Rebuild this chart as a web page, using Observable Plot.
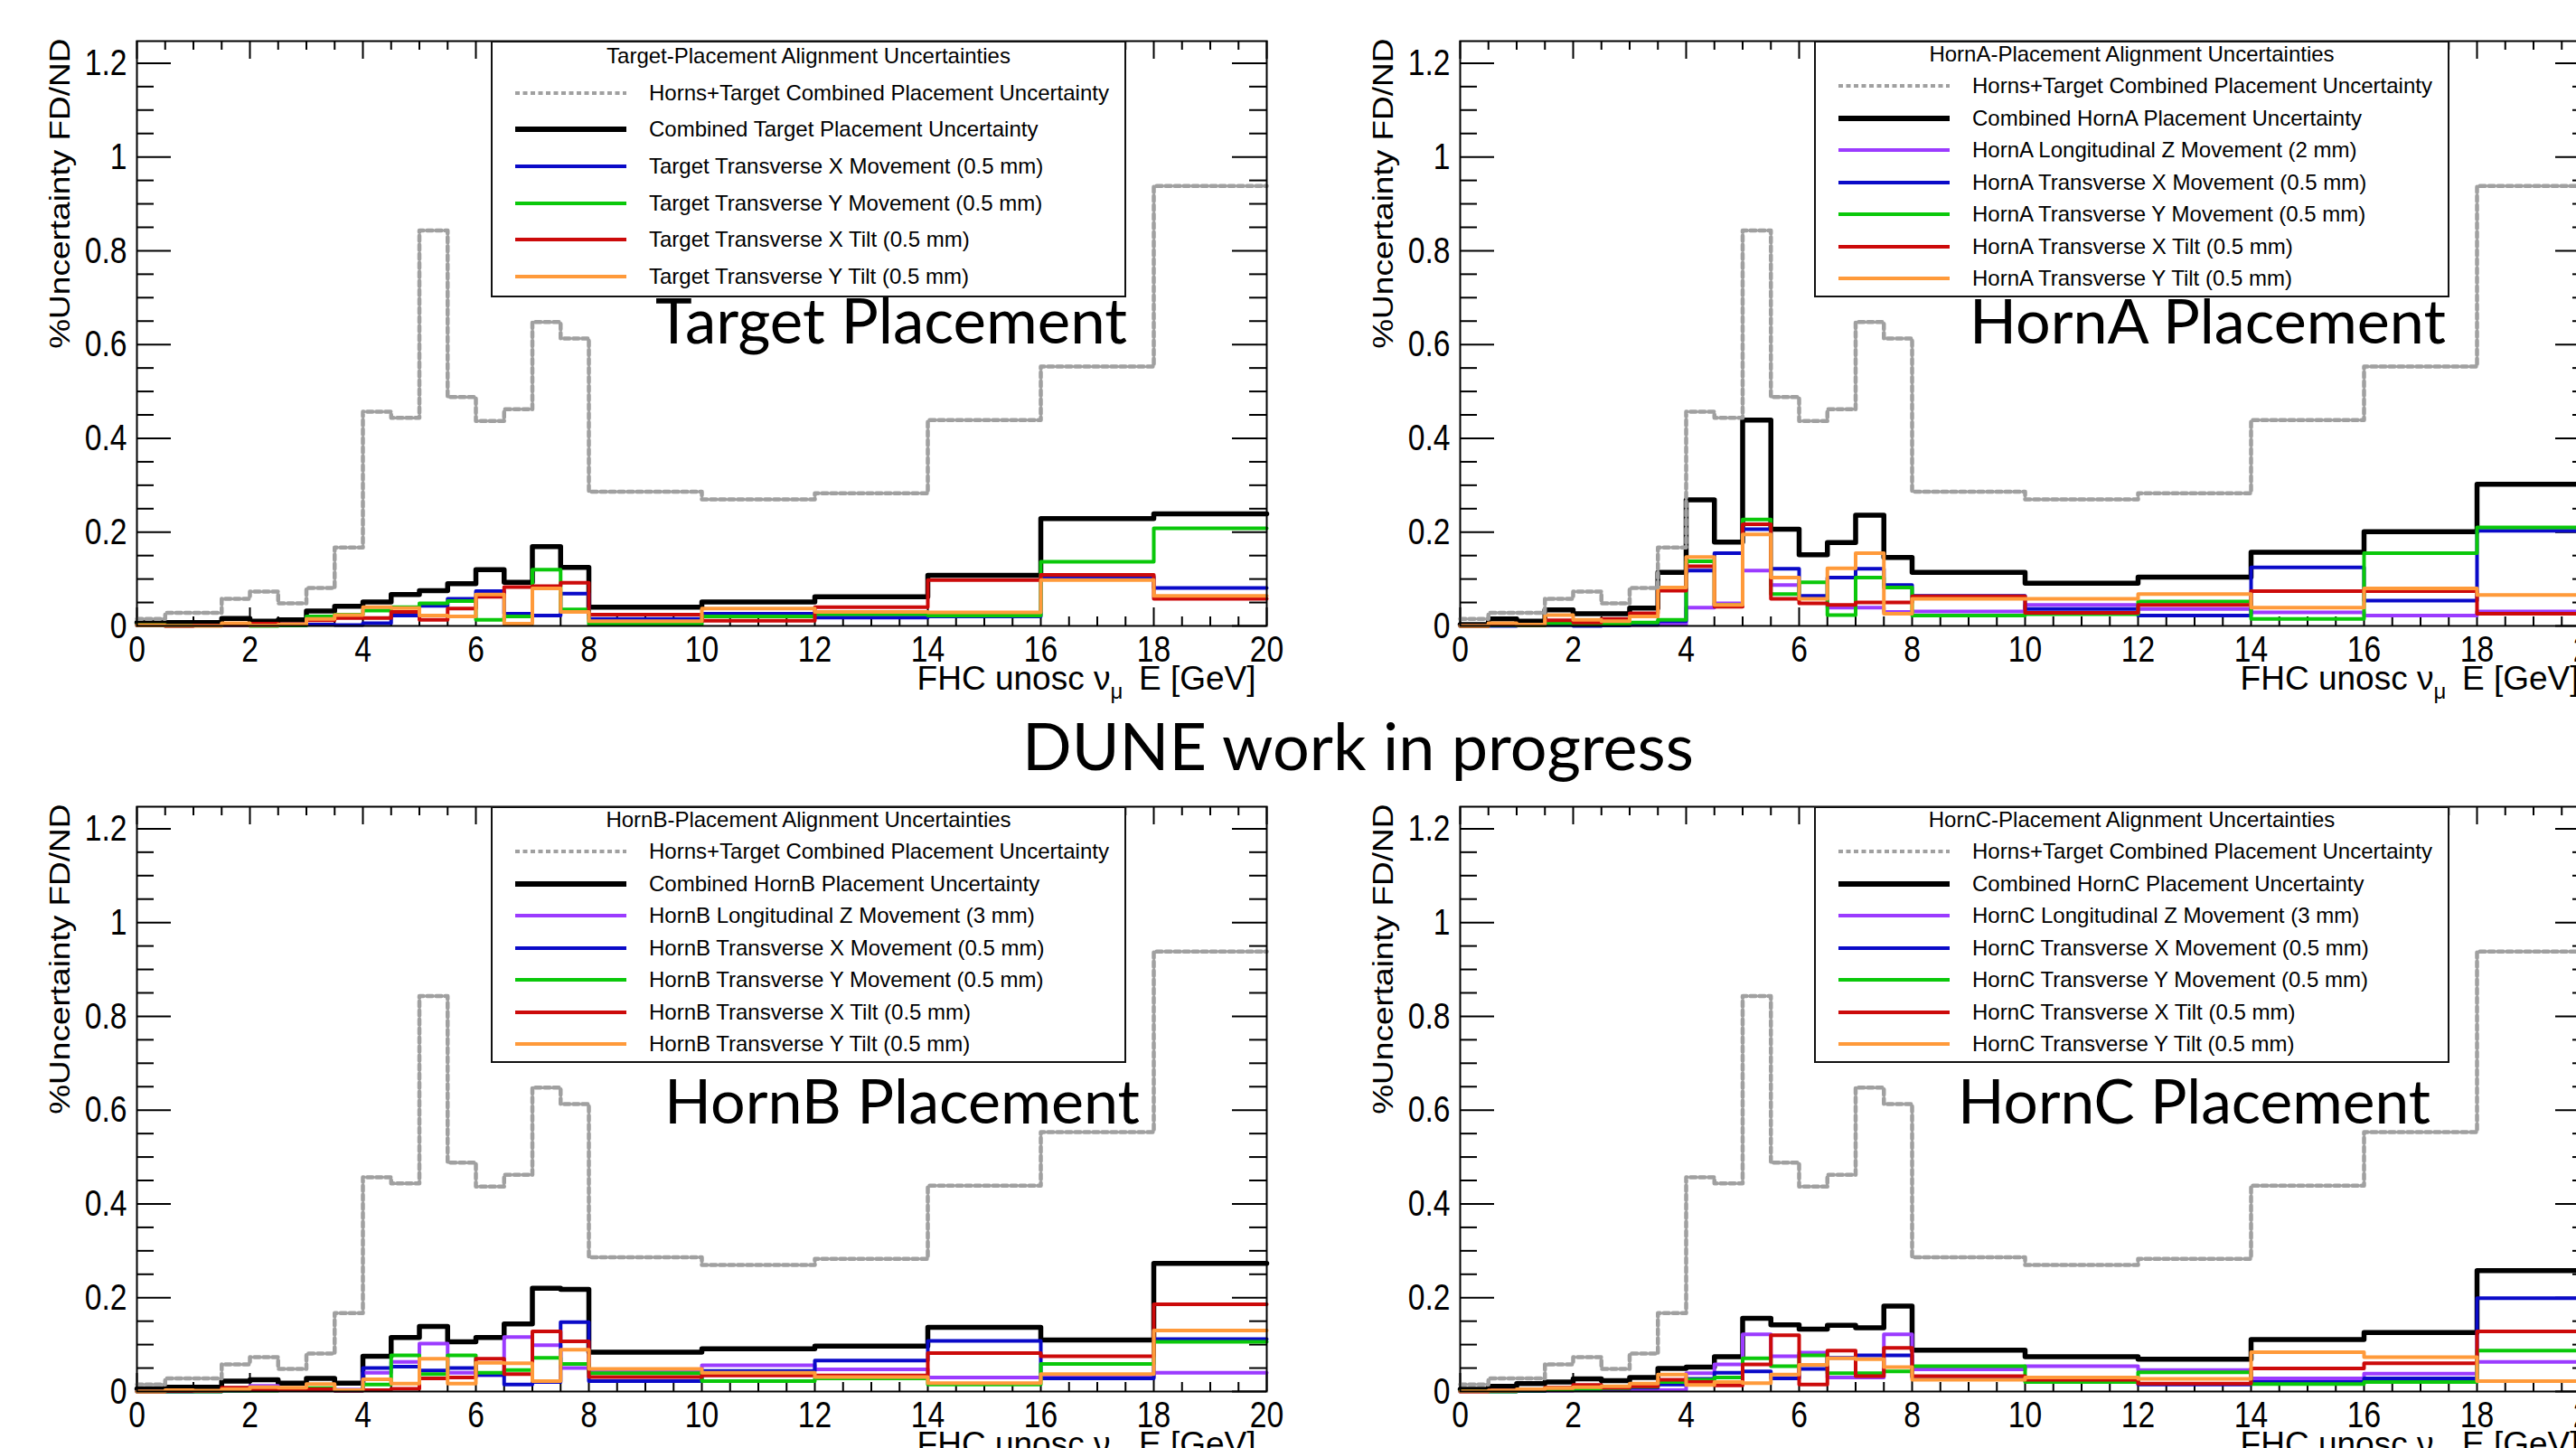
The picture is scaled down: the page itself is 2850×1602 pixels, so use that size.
<!DOCTYPE html>
<html>
<head>
<meta charset="utf-8">
<script src="https://cdn.jsdelivr.net/npm/d3@7"></script>
<script src="https://cdn.jsdelivr.net/npm/@observablehq/plot@0.6"></script>
<style>
html, body { margin: 0; padding: 0; background: #fff; }
body { width: 2850px; height: 1602px; overflow: hidden; position: relative; }
.panel { position: absolute; width: 1420px; height: 800px; }
.legend { position: absolute; background: #fff; border: 2px solid #111; box-sizing: border-box;
  font-family: "Liberation Sans", Arial, sans-serif; font-size: 24px; color: #000; }
.legend .row { position: absolute; left: 0; width: 100%; height: 24px; line-height: 24px; white-space: nowrap; }
.legend .row svg { position: absolute; left: 25px; top: 0; }
.legend .row span { position: absolute; left: 173px; top: 0; }
.legend .ttl { position: absolute; left: 0; width: 100%; text-align: center; height: 24px; line-height: 24px; white-space: nowrap; }
#overlay { position: absolute; left: 0; top: 0; pointer-events: none; }
</style>
</head>
<body>
<script>
// ---------------- data ----------------
const binEdges = [0,0.5,1,1.5,2,2.5,3,3.5,4,4.5,5,5.5,6,6.5,7,7.5,8,10,12,14,16,18,20];
const xTickLabels = [0,2,4,6,8,10,12,14,16,18,20];
const yTickLabels = [0,0.2,0.4,0.6,0.8,1,1.2];

// Horns+Target combined (same in all panels)
const combinedAll = [0.015,0.028,0.028,0.058,0.073,0.048,0.081,0.167,0.457,0.444,0.843,0.488,0.437,0.462,0.648,0.613,0.286,0.27,0.283,0.439,0.553,0.938];

// Target
const targetCombined = [0.007,0.007,0.007,0.016,0.01,0.013,0.032,0.042,0.051,0.067,0.075,0.09,0.12,0.093,0.169,0.125,0.04,0.051,0.062,0.108,0.229,0.239];
const targetXMove = [0.001,0,0.001,0.002,0.001,0.002,0.003,0.002,0.006,0.022,0.043,0.058,0.074,0.026,0.022,0.069,0.015,0.026,0.018,0.02,0.105,0.081];
const targetYMove = [0.003,0.001,0.001,0.004,0,0.001,0.02,0.024,0.033,0.04,0.048,0.053,0.013,0.02,0.12,0.035,0.003,0.02,0.025,0.022,0.137,0.208];
const targetXTilt = [0.002,0,0.001,0.002,0.005,0.004,0.012,0.017,0.017,0.03,0.013,0.037,0.062,0.083,0.085,0.092,0.024,0.011,0.04,0.098,0.109,0.058];
const targetYTilt = [0.001,0,0,0.006,0.001,0.003,0.015,0.023,0.04,0.038,0.022,0.02,0.067,0.005,0.08,0.03,0.01,0.037,0.03,0.029,0.098,0.064];

// HornA
const hornACombined = [0.003,0.015,0.01,0.034,0.026,0.026,0.038,0.114,0.269,0.179,0.439,0.206,0.152,0.178,0.236,0.146,0.114,0.091,0.104,0.157,0.201,0.302];
const hornAZMove = [0,0.003,0.001,0.004,0.001,0.001,0.002,0.003,0.039,0.048,0.118,0.087,0.062,0.039,0.039,0.03,0.031,0.045,0.036,0.029,0.022,0.031];
const hornAXMove = [0,0,0.001,0.002,0,0.001,0.003,0.01,0.118,0.155,0.206,0.122,0.064,0.103,0.122,0.087,0.064,0.036,0.022,0.125,0.054,0.203];
const hornAYMove = [0,0.002,0.001,0.006,0.003,0.004,0.007,0.013,0.138,0.045,0.227,0.068,0.093,0.023,0.103,0.082,0.022,0.025,0.052,0.015,0.155,0.21];
const hornAXTilt = [0,0.004,0.002,0.012,0.007,0.015,0.027,0.075,0.127,0.041,0.217,0.058,0.048,0.045,0.05,0.05,0.063,0.028,0.045,0.074,0.074,0.026];
const hornAYTilt = [0,0.006,0.003,0.023,0.013,0.01,0.02,0.082,0.147,0.045,0.195,0.103,0.058,0.123,0.155,0.026,0.058,0.058,0.068,0.039,0.08,0.066];

// HornB
const hornBCombined = [0.006,0.009,0.009,0.022,0.025,0.018,0.028,0.018,0.075,0.115,0.139,0.106,0.115,0.144,0.22,0.218,0.084,0.091,0.097,0.137,0.11,0.273];
const hornBZMove = [0,0,0.001,0.003,0.012,0.004,0.003,0.004,0.04,0.063,0.102,0.04,0.035,0.116,0.099,0.05,0.043,0.056,0.047,0.03,0.03,0.04];
const hornBXMove = [0,0,0,0.002,0.006,0.003,0.004,0.002,0.05,0.053,0.045,0.05,0.035,0.015,0.02,0.148,0.022,0.044,0.066,0.108,0.028,0.112];
const hornBYMove = [0,0,0,0.002,0.002,0.003,0.007,0.003,0.015,0.077,0.037,0.077,0.04,0.046,0.072,0.059,0.039,0.022,0.028,0.015,0.059,0.106];
const hornBXTilt = [0,0.001,0.001,0.008,0.004,0.004,0.005,0.002,0.003,0.006,0.028,0.03,0.07,0.037,0.128,0.107,0.031,0.034,0.034,0.082,0.075,0.186];
const hornBYTilt = [0,0.003,0.002,0.005,0.009,0.008,0.016,0.003,0.026,0.017,0.07,0.017,0.061,0.06,0.022,0.089,0.048,0.04,0.031,0.018,0.037,0.13];

// HornC
const hornCCombined = [0.005,0.011,0.017,0.02,0.027,0.023,0.03,0.049,0.052,0.074,0.156,0.142,0.133,0.141,0.136,0.182,0.088,0.074,0.069,0.111,0.126,0.258];
const hornCZMove = [0,0.001,0.001,0.002,0.003,0.003,0.004,0.003,0.039,0.058,0.122,0.075,0.083,0.03,0.03,0.122,0.047,0.054,0.046,0.028,0.038,0.063];
const hornCXMove = [0,0,0.001,0.003,0.005,0.006,0.008,0.015,0.027,0.04,0.043,0.028,0.048,0.072,0.077,0.077,0.03,0.022,0.015,0.02,0.028,0.199];
const hornCYMove = [0.001,0,0.002,0.004,0.006,0.007,0.01,0.02,0.025,0.03,0.071,0.054,0.077,0.039,0.039,0.043,0.054,0.02,0.041,0.016,0.02,0.087];
const hornCXTilt = [0,0.002,0.004,0.008,0.014,0.008,0.011,0.025,0.02,0.013,0.058,0.12,0.015,0.087,0.033,0.093,0.033,0.025,0.017,0.049,0.06,0.128];
const hornCYTilt = [0,0.002,0.005,0.007,0.009,0.011,0.017,0.036,0.014,0.02,0.018,0.036,0.057,0.071,0.069,0.052,0.025,0.03,0.027,0.084,0.073,0.022];

const combinedAllLabel = "Horns+Target Combined Placement Uncertainty";
const pageTitle = "DUNE work in progress";
const yTitle = "%Uncertainty FD/ND";
const xTitle = "FHC unosc \u03BD_\u03BC E [GeV]";

const COL = { grey: "#a0a0a0", black: "#000000", purple: "#9b3bff", blue: "#0a0ac8", green: "#0ac80a", red: "#cc0a0a", orange: "#ff9a3a" };

const panels = [
  { name: "Target", left: 0, top: 0, label: "Target Placement",
    title: "Target-Placement Alignment Uncertainties",
    combined: targetCombined, combinedLabel: "Combined Target Placement Uncertainty",
    parts: [
      { vals: targetXMove, color: COL.blue, label: "Target Transverse X Movement (0.5 mm)" },
      { vals: targetYMove, color: COL.green, label: "Target Transverse Y Movement (0.5 mm)" },
      { vals: targetXTilt, color: COL.red, label: "Target Transverse X Tilt (0.5 mm)" },
      { vals: targetYTilt, color: COL.orange, label: "Target Transverse Y Tilt (0.5 mm)" } ] },
  { name: "HornA", left: 1464, top: 0, label: "HornA Placement",
    title: "HornA-Placement Alignment Uncertainties",
    combined: hornACombined, combinedLabel: "Combined HornA Placement Uncertainty",
    parts: [
      { vals: hornAZMove, color: COL.purple, label: "HornA Longitudinal Z Movement (2 mm)" },
      { vals: hornAXMove, color: COL.blue, label: "HornA Transverse X Movement (0.5 mm)" },
      { vals: hornAYMove, color: COL.green, label: "HornA Transverse Y Movement (0.5 mm)" },
      { vals: hornAXTilt, color: COL.red, label: "HornA Transverse X Tilt (0.5 mm)" },
      { vals: hornAYTilt, color: COL.orange, label: "HornA Transverse Y Tilt (0.5 mm)" } ] },
  { name: "HornB", left: 0, top: 847, label: "HornB Placement",
    title: "HornB-Placement Alignment Uncertainties",
    combined: hornBCombined, combinedLabel: "Combined HornB Placement Uncertainty",
    parts: [
      { vals: hornBZMove, color: COL.purple, label: "HornB Longitudinal Z Movement (3 mm)" },
      { vals: hornBXMove, color: COL.blue, label: "HornB Transverse X Movement (0.5 mm)" },
      { vals: hornBYMove, color: COL.green, label: "HornB Transverse Y Movement (0.5 mm)" },
      { vals: hornBXTilt, color: COL.red, label: "HornB Transverse X Tilt (0.5 mm)" },
      { vals: hornBYTilt, color: COL.orange, label: "HornB Transverse Y Tilt (0.5 mm)" } ] },
  { name: "HornC", left: 1464, top: 847, label: "HornC Placement",
    title: "HornC-Placement Alignment Uncertainties",
    combined: hornCCombined, combinedLabel: "Combined HornC Placement Uncertainty",
    parts: [
      { vals: hornCZMove, color: COL.purple, label: "HornC Longitudinal Z Movement (3 mm)" },
      { vals: hornCXMove, color: COL.blue, label: "HornC Transverse X Movement (0.5 mm)" },
      { vals: hornCYMove, color: COL.green, label: "HornC Transverse Y Movement (0.5 mm)" },
      { vals: hornCXTilt, color: COL.red, label: "HornC Transverse X Tilt (0.5 mm)" },
      { vals: hornCYTilt, color: COL.orange, label: "HornC Transverse Y Tilt (0.5 mm)" } ] }
];

// ---------------- layout ----------------
const W = 1420, H = 800, ML = 151, MR = 19, MT = 45, MB = 108;
const frameW = W - ML - MR, frameH = H - MT - MB;
const yMax = 1.247;
const ux = 20 / frameW, uy = yMax / frameH;

const xMinor = d3.range(0, 20.001, 0.5).filter(d => Math.abs(d / 2 - Math.round(d / 2)) > 1e-6);
const yMinor = d3.range(0, yMax, 0.05).filter(d => Math.abs(d / 0.2 - Math.round(d / 0.2)) > 1e-6);

function steps(vals) {
  return binEdges.map((x, i) => ({ x, y: vals[Math.min(i, vals.length - 1)] }));
}
function fmtY(d) { return d === 0 ? "0" : d === 1 ? "1" : d.toFixed(1); }

function panelPlot(p) {
  const tk = { stroke: "#000", strokeWidth: 2 };
  const marks = [
    // inward ticks, ROOT style
    Plot.ruleX(xTickLabels, { x: d => d, y1: 0, y2: 20 * uy, ...tk }),
    Plot.ruleX(xMinor, { x: d => d, y1: 0, y2: 10 * uy, ...tk }),
    Plot.ruleX(xTickLabels, { x: d => d, y1: yMax - 20 * uy, y2: yMax, ...tk }),
    Plot.ruleX(xMinor, { x: d => d, y1: yMax - 10 * uy, y2: yMax, ...tk }),
    Plot.ruleY(yTickLabels, { y: d => d, x1: 0, x2: 38 * ux, ...tk }),
    Plot.ruleY(yMinor, { y: d => d, x1: 0, x2: 19 * ux, ...tk }),
    Plot.ruleY(yTickLabels, { y: d => d, x1: 20 - 38 * ux, x2: 20, ...tk }),
    Plot.ruleY(yMinor, { y: d => d, x1: 20 - 19 * ux, x2: 20, ...tk }),
    // histograms
    Plot.line(steps(p.combined), { x: "x", y: "y", curve: "step-after", stroke: COL.black, strokeWidth: 5.5 }),
    ...p.parts.map(s => Plot.line(steps(s.vals), { x: "x", y: "y", curve: "step-after", stroke: s.color, strokeWidth: 4 })),
    Plot.line(steps(combinedAll), { x: "x", y: "y", curve: "step-after", stroke: COL.grey, strokeWidth: 4.5, strokeDasharray: "6,4" }),
    Plot.frame({ stroke: "#000", strokeWidth: 2 }),
    // axes (labels only)
    Plot.axisX(xTickLabels, { anchor: "bottom", tickSize: 0, tickPadding: 10, fontSize: 41, label: null, tickFormat: d => String(d), className: "xlab" }),
    Plot.axisY(yTickLabels, { anchor: "left", tickSize: 0, tickPadding: 11, fontSize: 41, label: null, tickFormat: fmtY, className: "ylab" }),
    Plot.text([yTitle], { text: d => d, frameAnchor: "top-left", rotate: -90, textAnchor: "end", dx: -97, dy: -3, fontSize: 37, className: "ytitle" }),
    Plot.text([xTitle], { text: d => d, frameAnchor: "bottom-right", textAnchor: "end", dx: -12, dy: 70, fontSize: 37, className: "xtitle" })
  ];
  const svg = Plot.plot({
    width: W, height: H, marginLeft: ML, marginRight: MR, marginTop: MT, marginBottom: MB,
    x: { domain: [0, 20], label: null },
    y: { domain: [0, yMax], label: null },
    style: { background: "transparent", overflow: "visible", maxWidth: "none", fontFamily: "'Liberation Sans', Arial, sans-serif", color: "#000" },
    marks
  });
  // condensed ROOT-style tick labels (the source image is squeezed horizontally)
  svg.querySelectorAll("g[aria-label$='tick label'] text").forEach(el => {
    const tr = el.getAttribute("transform") || "";
    el.setAttribute("transform", tr + " scale(0.82,1)");
  });
  // subscript mu in the x title
  const t = svg.querySelector(".xtitle text");
  if (t) {
    const [a, rest] = t.textContent.split("_");
    const sub = rest.charAt(0), tail = rest.slice(1);
    t.textContent = "";
    const ns = "http://www.w3.org/2000/svg";
    const t1 = document.createElementNS(ns, "tspan"); t1.textContent = a;
    const t2 = document.createElementNS(ns, "tspan"); t2.textContent = sub; t2.setAttribute("font-size", "24"); t2.setAttribute("dy", "10");
    const t3 = document.createElementNS(ns, "tspan"); t3.textContent = "\u2009" + tail; t3.setAttribute("dy", "-10");
    t.append(t1, t2, t3);
  }
  // slightly condensed rotated y title
  const yt = svg.querySelector(".ytitle text");
  if (yt) {
    const tr = yt.getAttribute("transform") || "";
    yt.setAttribute("transform", tr + " scale(1,0.85)");
  }
  return svg;
}

function legend(p) {
  const entries = [
    { label: combinedAllLabel, color: COL.grey, width: 4, dash: "5,3.5" },
    { label: p.combinedLabel, color: COL.black, width: 6 },
    ...p.parts.map(s => ({ label: s.label, color: s.color, width: 4 }))
  ];
  const boxW = 703, boxH = 284;
  const div = document.createElement("div");
  div.className = "legend";
  div.style.left = (p.left + ML + 392) + "px";
  div.style.top = (p.top + MT) + "px";
  div.style.width = boxW + "px";
  div.style.height = boxH + "px";
  const rowH = boxH / (entries.length + 1);
  const ttl = document.createElement("div");
  ttl.className = "ttl";
  ttl.textContent = p.title;
  ttl.style.top = (0.5 * rowH - 3 - 12 - 2) + "px";
  div.appendChild(ttl);
  entries.forEach((e, i) => {
    const row = document.createElement("div");
    row.className = "row";
    row.style.top = ((i + 1.5) * rowH - 3 - 12 - 2) + "px";
    const dash = e.dash ? ` stroke-dasharray="${e.dash}"` : "";
    row.innerHTML = `<svg width="123" height="24"><line x1="0" x2="123" y1="12" y2="12" stroke="${e.color}" stroke-width="${e.width}"${dash}/></svg><span>${e.label}</span>`;
    div.appendChild(row);
  });
  return div;
}

for (const p of panels) {
  const holder = document.createElement("div");
  holder.className = "panel";
  holder.style.left = p.left + "px";
  holder.style.top = p.top + "px";
  holder.appendChild(panelPlot(p));
  document.body.appendChild(holder);
  document.body.appendChild(legend(p));
}

// big slide labels
const ns = "http://www.w3.org/2000/svg";
const ov = document.createElementNS(ns, "svg");
ov.setAttribute("id", "overlay");
ov.setAttribute("width", 2850);
ov.setAttribute("height", 1602);
document.body.appendChild(ov);
const bigLabels = [
  { text: pageTitle, x: 1131, y: 852, w: 743 },
  { text: panels[0].label, x: 725, y: 380, w: 522 },
  { text: panels[1].label, x: 2179, y: 380, w: 527 },
  { text: panels[2].label, x: 735, y: 1243, w: 526 },
  { text: panels[3].label, x: 2166, y: 1243, w: 523 }
];
for (const b of bigLabels) {
  const t = document.createElementNS(ns, "text");
  t.setAttribute("x", b.x);
  t.setAttribute("y", b.y);
  t.setAttribute("font-family", "Lato, 'Open Sans', sans-serif");
  t.setAttribute("font-size", 80);
  t.setAttribute("fill", "#000");
  t.textContent = b.text;
  ov.appendChild(t);
  const L = t.getComputedTextLength();
  t.setAttribute("font-size", (80 * b.w / L).toFixed(2));
}
</script>
</body>
</html>
